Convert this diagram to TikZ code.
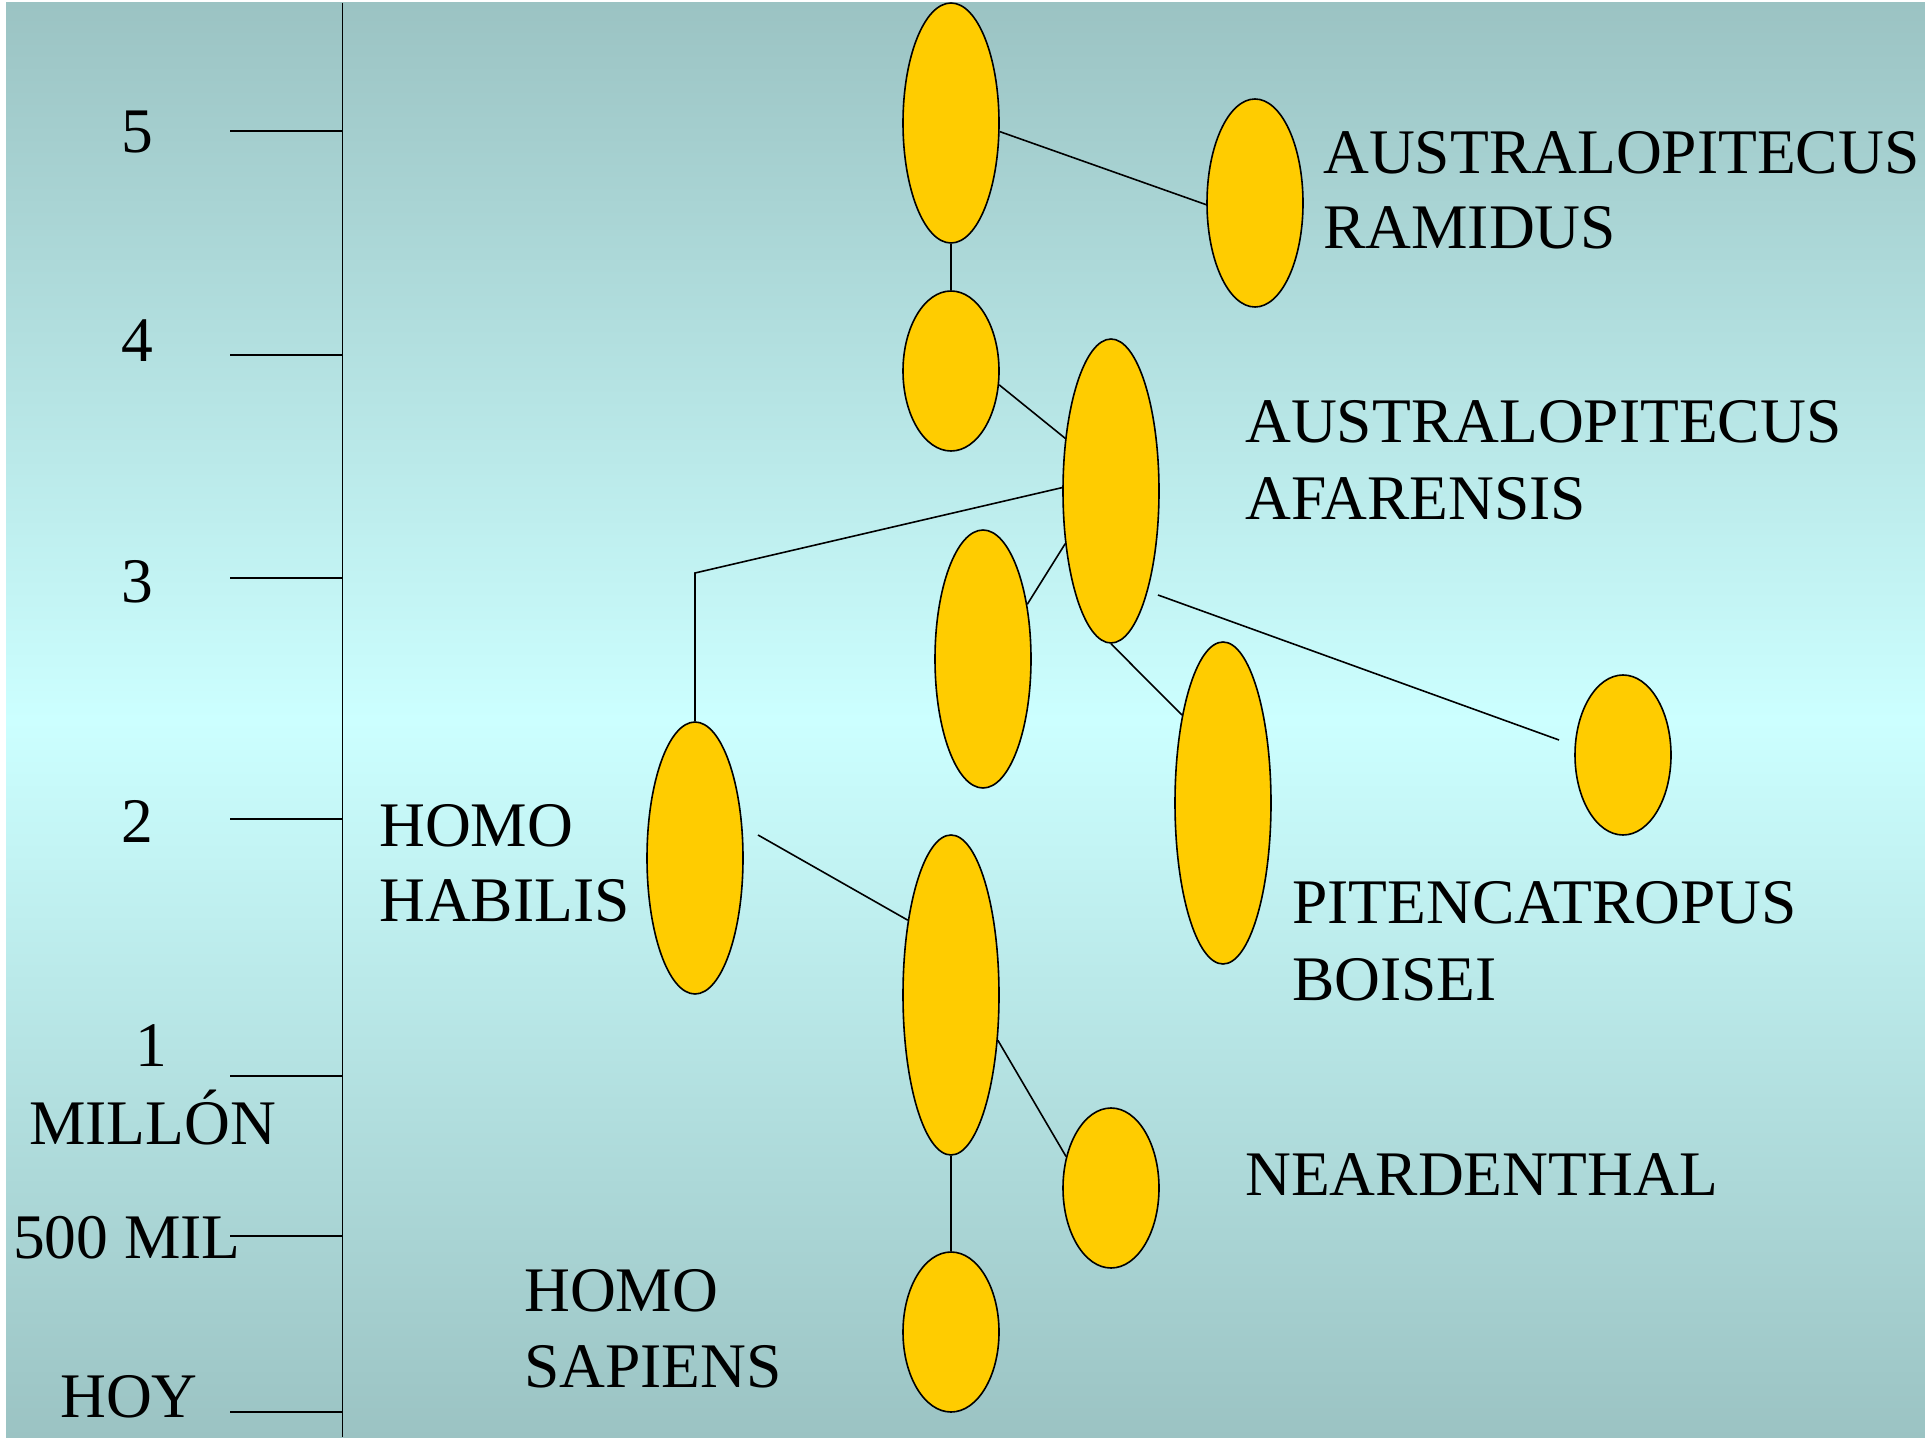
\documentclass[tikz,border=0pt]{standalone}
\usepackage{fontspec}
\setmainfont{Liberation Serif}
\usetikzlibrary{shapes.geometric}
\definecolor{bgedge}{HTML}{9BC3C3}
\definecolor{bgmid}{HTML}{CCFFFF}
\definecolor{gold}{HTML}{FFCC00}
\tikzset{
  sp/.style={ellipse, draw=black, line width=1.6pt, fill=gold, inner sep=0pt, minimum width=96pt},
  lab/.style={anchor=base west, inner sep=0pt, font=\fontsize{63.5}{76}\selectfont},
  num/.style={anchor=base, inner sep=0pt, font=\fontsize{63.5}{76}\selectfont},
  link/.style={line width=1.6pt, draw=black},
  tick/.style={line width=1.3pt, draw=black}
}
\begin{document}
\begin{tikzpicture}[x=1pt,y=-1pt]
\useasboundingbox (0,0) rectangle (1925,1439);
\fill[white] (0,0) rectangle (1925,1439);
\shade[top color=bgedge, bottom color=bgedge, middle color=bgmid] (6,3) rectangle (1925,1437);
% time axis
\coordinate (axtop) at (342.5,3);
\coordinate (axbot) at (342.5,1437);
\draw[tick] (axtop) -- (axbot);
\foreach \y/\n in {131/a,355/b,578/c,819/d,1076/e,1236/f,1412/g}{
  \coordinate (tl\n) at (230,\y);
  \coordinate (tr\n) at (342.5,\y);
  \draw[tick] (tl\n) -- (tr\n);
}
\node[num] (n5) at (137,153) {5};
\node[num] (n4) at (137,361) {4};
\node[num] (n3) at (137,602) {3};
\node[num] (n2) at (137,842) {2};
\node[num] (n1) at (151,1066) {1};
\node[lab] (nmillon) at (29,1144) {MILLÓN};
\node[lab] (n500) at (13,1258) {500 MIL};
\node[lab] (nhoy) at (60,1417) {HOY};
% species ellipses
\node[sp, minimum height=240pt] (e1) at (951,123) {};
\node[sp, minimum height=208pt] (e2) at (1255,203) {};
\node[sp, minimum height=160pt] (e3) at (951,371) {};
\node[sp, minimum height=304pt] (e4) at (1111,491) {};
\node[sp, minimum height=258pt] (e5) at (983,659) {};
\node[sp, minimum height=272pt] (e6) at (695,858) {};
\node[sp, minimum height=322pt] (e7) at (1223,803) {};
\node[sp, minimum height=160pt] (e8) at (1623,755) {};
\node[sp, minimum height=320pt] (e9) at (951,995) {};
\node[sp, minimum height=160pt] (e10) at (1111,1188) {};
\node[sp, minimum height=160pt] (e11) at (951,1332) {};
% connectors
\coordinate (corner) at (695,573);
\coordinate (g1) at (1158,595);
\coordinate (g2) at (1559,740);
\coordinate (g3) at (758,835);
\draw[link] (e1.-10.6) -- (e2.182);
\draw[link] (e1.south) -- (e3.north);
\draw[link] (e3.-16) -- (e4.131);
\draw[link] (e4.176) -- (corner) -- (e6.north);
\draw[link] (e5.51) -- (e4.229);
\draw[link] (e4.south) -- (e7.115);
\draw[link] (g1) -- (g2);
\draw[link] (g3) -- (e9.120);
\draw[link] (e9.-44) -- (e10.145);
\draw[link] (e9.south) -- (e11.north);
% labels
\node[lab] (t1a) at (1323,174) {AUSTRALOPITECUS};
\node[lab] (t1b) at (1323,249) {RAMIDUS};
\node[lab] (t2a) at (1245,442) {AUSTRALOPITECUS};
\node[lab] (t2b) at (1245,519) {AFARENSIS};
\node[lab] (t3a) at (379,846) {HOMO};
\node[lab] (t3b) at (379,921) {HABILIS};
\node[lab] (t4a) at (1292,923) {PITENCATROPUS};
\node[lab] (t4b) at (1292,1000) {BOISEI};
\node[lab] (t5) at (1245,1195) {NEARDENTHAL};
\node[lab] (t6a) at (524,1311) {HOMO};
\node[lab] (t6b) at (524,1387) {SAPIENS};
\end{tikzpicture}
\end{document}
